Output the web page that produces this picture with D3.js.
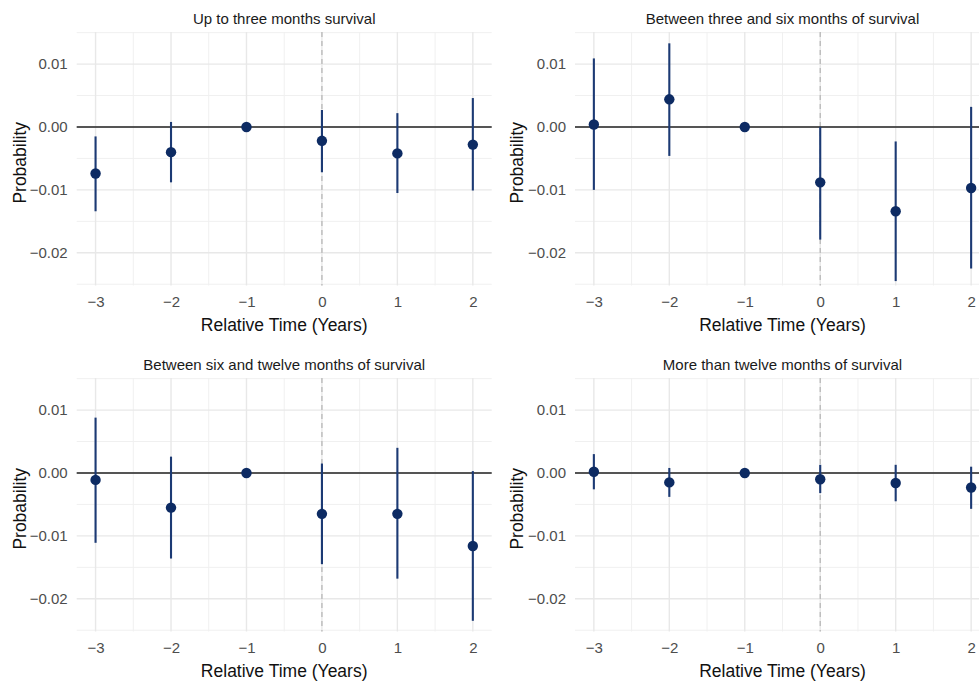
<!DOCTYPE html>
<html>
<head>
<meta charset="utf-8">
<script src="https://cdn.jsdelivr.net/npm/d3@7"></script>
<style>
  body { margin: 0; background: #fff; }
  svg { display: block; font-family: "Liberation Sans", Arial, sans-serif; }
</style>
</head>
<body>
<script>
// event-study style estimates
const years = [-3, -2, -1, 0, 1, 2];
const titles = [
  "Up to three months survival",
  "Between three and six months of survival",
  "Between six and twelve months of survival",
  "More than twelve months of survival"
];
const estUpTo3 = [-0.0074, -0.0040, 0, -0.0022, -0.0042, -0.0028];
const lowUpTo3 = [-0.0134, -0.0088, null, -0.0072, -0.0105, -0.0101];
const highUpTo3 = [-0.0015, 0.0008, null, 0.0027, 0.0022, 0.0046];

const est3to6 = [0.0004, 0.0044, 0, -0.0088, -0.0134, -0.0097];
const low3to6 = [-0.0100, -0.0046, null, -0.0179, -0.0245, -0.0225];
const high3to6 = [0.0109, 0.0133, null, 0.0000, -0.0023, 0.0032];

const est6to12 = [-0.0011, -0.0055, 0, -0.0065, -0.0065, -0.0116];
const low6to12 = [-0.0111, -0.0136, null, -0.0145, -0.0168, -0.0235];
const high6to12 = [0.0088, 0.0026, null, 0.0015, 0.0040, 0.0003];

const est12plus = [0.0002, -0.0015, 0, -0.0010, -0.0016, -0.0023];
const low12plus = [-0.0026, -0.0038, null, -0.0032, -0.0045, -0.0057];
const high12plus = [0.0030, 0.0008, null, 0.0013, 0.0013, 0.0010];

const yTicks = [-0.02, -0.01, 0, 0.01];
const yMinor = [-0.025, -0.015, -0.005, 0.005, 0.015];
const xMinor = [-2.5, -1.5, -0.5, 0.5, 1.5];

const panels = [
  {title: titles[0], est: estUpTo3, low: lowUpTo3, high: highUpTo3},
  {title: titles[1], est: est3to6, low: low3to6, high: high3to6},
  {title: titles[2], est: est6to12, low: low6to12, high: high6to12},
  {title: titles[3], est: est12plus, low: low12plus, high: high12plus}
];

const width = 979, height = 682;
const pw = 415, ph = 253.5;
const origins = [[76.7, 32], [575, 32], [76.7, 378], [575, 378]];

const svg = d3.select("body").append("svg")
  .attr("width", width)
  .attr("height", height);

const x = d3.scaleLinear().domain([-3.25, 2.25]).range([0, pw]);
const y = d3.scaleLinear().domain([-0.0252, 0.0151]).range([ph, 0]);

const navy = "#0d2b63";
const barCol = "#1c3a74";

panels.forEach((p, i) => {
  const [ox, oy] = origins[i];
  const g = svg.append("g").attr("transform", `translate(${ox},${oy})`);

  // minor grid
  g.selectAll(".ymin").data(yMinor).enter().append("line")
    .attr("x1", 0).attr("x2", pw)
    .attr("y1", d => y(d)).attr("y2", d => y(d))
    .attr("stroke", "#f0f0f0").attr("stroke-width", 1);
  g.selectAll(".xmin").data(xMinor).enter().append("line")
    .attr("x1", d => x(d)).attr("x2", d => x(d))
    .attr("y1", 0).attr("y2", ph)
    .attr("stroke", "#f0f0f0").attr("stroke-width", 1);

  // major grid
  g.selectAll(".ymaj").data(yTicks).enter().append("line")
    .attr("x1", 0).attr("x2", pw)
    .attr("y1", d => y(d)).attr("y2", d => y(d))
    .attr("stroke", "#e8e8e8").attr("stroke-width", 1.4);
  g.selectAll(".xmaj").data(years).enter().append("line")
    .attr("x1", d => x(d)).attr("x2", d => x(d))
    .attr("y1", 0).attr("y2", ph)
    .attr("stroke", "#e8e8e8").attr("stroke-width", 1.4);

  // reference lines
  g.append("line")
    .attr("x1", x(0)).attr("x2", x(0))
    .attr("y1", 0).attr("y2", ph)
    .attr("stroke", "#b8b8b8").attr("stroke-width", 1.3)
    .attr("stroke-dasharray", "5,4");
  g.append("line")
    .attr("x1", 0).attr("x2", pw)
    .attr("y1", y(0)).attr("y2", y(0))
    .attr("stroke", "#222").attr("stroke-width", 1.4);

  // axes
  const ya = g.append("g")
    .call(d3.axisLeft(y).tickValues(yTicks).tickSize(0).tickPadding(9)
      .tickFormat(d => d3.format(".2f")(d).replace("-", "\u2212")));
  const xa = g.append("g").attr("transform", `translate(0,${ph})`)
    .call(d3.axisBottom(x).tickValues(years).tickSize(0).tickPadding(11)
      .tickFormat(d => String(d).replace("-", "\u2212")));
  [ya, xa].forEach(a => {
    a.select(".domain").remove();
    a.selectAll("text").attr("fill", "#4d4d4d").style("font-size", "15px");
  });

  // error bars + points
  const rows = years.map((yr, j) => ({yr, est: p.est[j], low: p.low[j], high: p.high[j]}));
  g.selectAll(".bar").data(rows.filter(d => d.low !== null)).enter().append("line")
    .attr("x1", d => x(d.yr)).attr("x2", d => x(d.yr))
    .attr("y1", d => y(d.low)).attr("y2", d => y(d.high))
    .attr("stroke", barCol).attr("stroke-width", 2.1);
  g.selectAll(".pt").data(rows).enter().append("circle")
    .attr("cx", d => x(d.yr)).attr("cy", d => y(d.est))
    .attr("r", 5.2).attr("fill", navy);

  // titles
  g.append("text")
    .attr("x", pw / 2).attr("y", -8)
    .attr("text-anchor", "middle")
    .attr("fill", "#1a1a1a").style("font-size", "15px")
    .text(p.title);
  g.append("text")
    .attr("x", pw / 2).attr("y", ph + 45.5)
    .attr("text-anchor", "middle")
    .attr("fill", "#111").style("font-size", "17.5px")
    .text("Relative Time (Years)");
  g.append("text")
    .attr("transform", `translate(${i % 2 === 0 ? -51 : -52},${ph / 2 + 4}) rotate(-90)`)
    .attr("text-anchor", "middle")
    .attr("fill", "#111").style("font-size", "17.5px")
    .text("Probability");
});
</script>
</body>
</html>
